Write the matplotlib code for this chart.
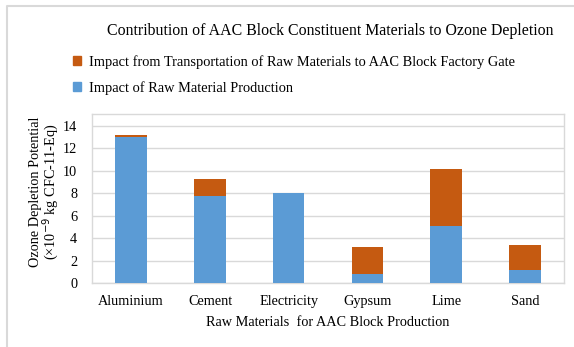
import matplotlib.pyplot as plt
from matplotlib.lines import Line2D
from matplotlib.patches import Patch

# ozone depletion potential, x10^-9 kg CFC-11-Eq
materials = ["Aluminium", "Cement", "Electricity", "Gypsum", "Lime", "Sand"]
production = [13.0, 7.74, 8.01, 0.80, 5.13, 1.13]
transport = [0.17, 1.52, 0.0, 2.46, 5.08, 2.25]

blue = "#5b9bd5"
orange = "#c55a11"

plt.rcParams["font.family"] = ["Liberation Serif", "DejaVu Serif"]

fig = plt.figure(figsize=(5.74, 3.47), dpi=100)
ax = fig.add_axes([0.160, 0.184, 0.823, 0.487])

x = range(len(materials))
ax.bar(x, production, width=0.4, color=blue, zorder=3)
ax.bar(x, transport, width=0.4, bottom=production, color=orange, zorder=3)

ax.set_xlim(-0.5, len(materials) - 0.5)
ax.set_ylim(0, 15.05)
ax.set_yticks(range(0, 15, 2))
ax.set_xticks(list(x))
ax.set_xticklabels(materials)
ax.tick_params(axis="both", length=0, labelsize=10.3)
ax.tick_params(axis="x", pad=8.5)
ax.tick_params(axis="y", pad=10.5)
ax.grid(axis="y", color="#d9d9d9", linewidth=1, zorder=0)
for s in ax.spines.values():
    s.set_color("#d9d9d9")
    s.set_linewidth(1)

ax.set_xlabel("Raw Materials  for AAC Block Production", fontsize=10.3, labelpad=6)
fig.text(0.078, 0.447, "Ozone Depletion Potential\n(\u00d710$^{-9}$ kg CFC-11-Eq)",
         rotation=90, ha="center", va="center", fontsize=10.3, linespacing=0.9)

fig.text(0.575, 0.912, "Contribution of AAC Block Constituent Materials to Ozone Depletion",
         ha="center", va="center", fontsize=11.4)

handles = [Patch(color=orange), Patch(color=blue)]
labels = ["Impact from Transportation of Raw Materials to AAC Block Factory Gate",
          "Impact of Raw Material Production"]
fig.legend(handles, labels, loc="upper left", bbox_to_anchor=(0.128, 0.842),
           frameon=False, fontsize=10.35, handlelength=0.55, handleheight=0.55,
           handletextpad=0.5, labelspacing=0.85, borderaxespad=0, borderpad=0)

# light frame lines along the top and left of the chart
x0, y0 = 6.5 / 574, 1 - 5.5 / 347
fig.add_artist(Line2D([x0, x0, 1], [0, y0, y0], transform=fig.transFigure,
                      color="#d9d9d9", linewidth=1.5))

fig.savefig("out.png", dpi=100)
